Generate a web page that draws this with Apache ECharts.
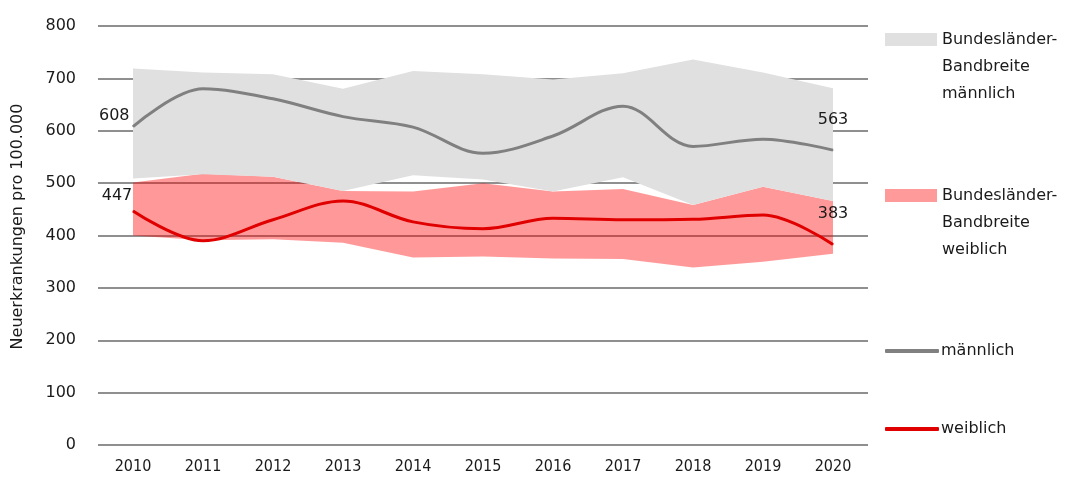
<!DOCTYPE html>
<html>
<head>
<meta charset="utf-8">
<script src="https://cdn.jsdelivr.net/npm/echarts@6/dist/echarts.min.js"></script>
<style>
  html, body { margin: 0; padding: 0; background: #fff; }
  #chart { width: 1076px; height: 481px; }
</style>
</head>
<body>
<div id="chart"></div>
<script>
// Neuerkrankungen pro 100.000, 2010-2020
var years = ['2010', '2011', '2012', '2013', '2014', '2015', '2016', '2017', '2018', '2019', '2020'];
var maleRate = [608, 680, 661, 627, 607, 557, 590, 647, 570, 584, 563];
var femaleRate = [447, 390, 430, 466, 426, 413, 433, 430, 431, 439, 383];
var maleBandHigh = [719, 711, 708, 680, 714, 708, 698, 710, 736, 711, 681];
var maleBandLow = [509, 517, 512, 485, 515, 507, 484, 511, 458, 493, 466];
var femaleBandHigh = [501, 518, 512, 485, 484, 500, 484, 489, 458, 493, 466];
var femaleBandLow = [400, 391, 393, 386, 358, 360, 356, 355, 339, 350, 365];
var yTicks = [0, 100, 200, 300, 400, 500, 600, 700, 800];

var NAME_BAND_M = 'Bundesländer-Bandbreite männlich';
var NAME_BAND_W = 'Bundesländer-Bandbreite weiblich';
var FONT = 'DejaVu Sans';
var FONT_NARROW = '"DejaVu Sans Condensed", "Liberation Sans Narrow", "Roboto Condensed", "Liberation Sans", sans-serif';

var dom = document.getElementById('chart');
var myChart = echarts.init(dom);

function diff(hi, lo) {
    return hi.map(function (v, i) { return v - lo[i]; });
}

// Endpunkte beschriften (erster und letzter Wert)
function withEndLabels(values, firstLabel, lastLabel) {
    return values.map(function (v, i) {
        if (i === 0) return { value: v, label: firstLabel };
        if (i === values.length - 1) return { value: v, label: lastLabel };
        return { value: v, label: { show: false } };
    });
}

var labelStyle = { show: true, color: '#1a1a1a', fontFamily: FONT, fontSize: 16 };

function bandLegend(name, color, top) {
    return {
        left: 885,
        top: top,
        padding: 0,
        itemWidth: 52,
        itemHeight: 13,
        itemGap: 0,
        icon: 'rect',
        selectedMode: false,
        data: [{ name: name, itemStyle: { color: color } }],
        // zwei Leerzeilen davor, damit die erste Zeile auf Höhe des Symbols steht
        formatter: function (n) { return ' \n \n' + n.replace('-Bandbreite ', '-\nBandbreite\n'); },
        textStyle: {
            color: '#1a1a1a', fontFamily: FONT, fontSize: 16, lineHeight: 27
        }
    };
}

function lineLegend(name, color, top) {
    return {
        left: 885,
        top: top,
        padding: 0,
        itemWidth: 54,
        itemHeight: 4,
        icon: 'roundRect',
        selectedMode: false,
        data: [{ name: name, itemStyle: { color: color } }],
        textStyle: { color: '#1a1a1a', fontFamily: FONT, fontSize: 16, padding: [0, 0, 0, -3] }
    };
}

var option = {
    backgroundColor: '#fff',
    animation: false,
    grid: { left: 98, right: 208, top: 26, bottom: 36 },
    legend: [
        bandLegend(NAME_BAND_M, '#e0e0e0', -28),
        bandLegend(NAME_BAND_W, '#ff9a9b', 128),
        lineLegend('männlich', '#808080', 343),
        lineLegend('weiblich', '#e00000', 421)
    ],
    xAxis: {
        type: 'category',
        data: years,
        boundaryGap: true,
        axisLine: { show: false },
        axisTick: { show: false },
        axisLabel: {
            color: '#1a1a1a',
            fontFamily: FONT_NARROW,
            fontSize: 16,
            margin: 14
        }
    },
    yAxis: {
        type: 'value',
        min: yTicks[0],
        max: yTicks[yTicks.length - 1],
        interval: 100,
        name: 'Neuerkrankungen pro 100.000',
        nameLocation: 'middle',
        nameGap: 72,
        nameTextStyle: { color: '#1a1a1a', fontFamily: FONT, fontSize: 16, padding: [0, 0, 0, 18] },
        axisLine: { show: false },
        axisTick: { show: false },
        axisLabel: { color: '#1a1a1a', fontFamily: FONT, fontSize: 16, margin: 22 },
        splitLine: { show: true, lineStyle: { color: '#8f8f8f', width: 2 } }
    },
    series: [
        {
            name: 'fBase',
            type: 'line',
            stack: 'w',
            data: femaleBandLow,
            symbol: 'none',
            lineStyle: { opacity: 0 },
            silent: true
        },
        {
            name: NAME_BAND_W,
            type: 'line',
            stack: 'w',
            data: diff(femaleBandHigh, femaleBandLow),
            symbol: 'none',
            lineStyle: { opacity: 0 },
            itemStyle: { color: '#ff9a9b' },
            areaStyle: { color: 'rgba(255,0,0,0.4)', opacity: 1 },
            silent: true
        },
        {
            name: 'mBase',
            type: 'line',
            stack: 'm',
            data: maleBandLow,
            symbol: 'none',
            lineStyle: { opacity: 0 },
            silent: true
        },
        {
            name: NAME_BAND_M,
            type: 'line',
            stack: 'm',
            data: diff(maleBandHigh, maleBandLow),
            symbol: 'none',
            lineStyle: { opacity: 0 },
            itemStyle: { color: '#e0e0e0' },
            areaStyle: { color: '#e0e0e0', opacity: 1 },
            silent: true
        },
        {
            name: 'männlich',
            type: 'line',
            smooth: 0.35,
            symbol: 'circle',
            symbolSize: 1,
            showSymbol: true,
            showAllSymbol: true,
            data: withEndLabels(maleRate,
                Object.assign({ position: 'left', distance: 3, offset: [0, -11] }, labelStyle),
                Object.assign({ position: 'top', distance: 5, offset: [0, -17] }, labelStyle)),
            itemStyle: { color: '#808080' },
            lineStyle: { color: '#808080', width: 3 },
            z: 5
        },
        {
            name: 'weiblich',
            type: 'line',
            smooth: 0.35,
            symbol: 'circle',
            symbolSize: 1,
            showSymbol: true,
            showAllSymbol: true,
            data: withEndLabels(femaleRate,
                Object.assign({ position: 'top', distance: 5, offset: [-16, -2] }, labelStyle),
                Object.assign({ position: 'top', distance: 5, offset: [0, -17] }, labelStyle)),
            itemStyle: { color: '#e00000' },
            lineStyle: { color: '#e00000', width: 3 },
            z: 6
        }
    ]
};

myChart.setOption(option);
</script>
</body>
</html>
